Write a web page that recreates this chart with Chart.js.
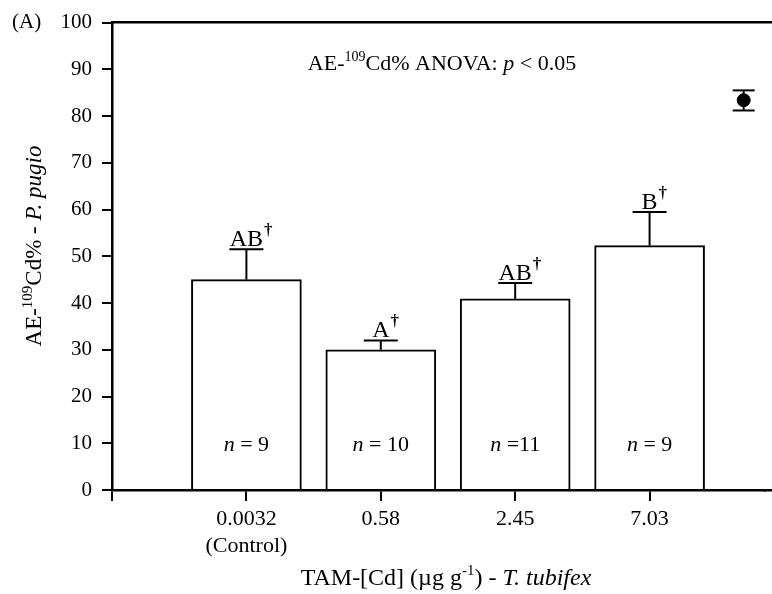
<!DOCTYPE html>
<html>
<head>
<meta charset="utf-8">
<script src="https://cdn.jsdelivr.net/npm/chart.js@4/dist/chart.umd.min.js"></script>
<style>
  html, body { margin: 0; padding: 0; background: #fff; }
</style>
</head>
<body>
<canvas id="aeChart" width="772" height="594"></canvas>
<script>
// values
const doses = ["0.0032", "0.58", "2.45", "7.03"];
const doseNotes = ["(Control)", "", "", ""];
const aeMeans = [45.0, 30.0, 40.9, 52.3];
const aeUpper = [51.5, 32.0, 44.3, 59.5];
const groupLetters = ["AB", "A", "AB", "B"];
const sampleText = [" = 9", " = 10", " =11", " = 9"];
const refPos = 4.7;          // lone reference point, right of the bars
const refMean = 83.4;
const refLow = 81.2;
const refHigh = 85.5;
const yTicks = [0, 10, 20, 30, 40, 50, 60, 70, 80, 90, 100];

const SERIF = "'Liberation Serif', 'Times New Roman', serif";
const f = (size, italic) => (italic ? "italic " : "") + size + "px " + SERIF;

// draw a run of text pieces with their own fonts / raise
function drawRich(ctx, parts, x, y, align) {
    let total = 0;
    parts.forEach(p => {
        ctx.font = p.font;
        p.w = ctx.measureText(p.t).width;
        total += p.w;
    });
    let cx = x;
    if (align === "center") cx = x - total / 2;
    ctx.textAlign = "left";
    ctx.textBaseline = "alphabetic";
    parts.forEach(p => {
        ctx.font = p.font;
        ctx.fillText(p.t, cx, y + (p.dy || 0));
        cx += p.w;
    });
}

function line(ctx, x1, y1, x2, y2) {
    ctx.beginPath();
    ctx.moveTo(x1, y1);
    ctx.lineTo(x2, y2);
    ctx.stroke();
}

const extras = {
    id: "extras",
    afterDatasetsDraw(chart) {
        const ctx = chart.ctx;
        const xs = chart.scales.x, ys = chart.scales.y;
        ctx.save();
        ctx.strokeStyle = "#000";
        ctx.fillStyle = "#000";
        ctx.lineWidth = 2;

        aeMeans.forEach((m, i) => {
            const px = xs.getPixelForValue(i + 1);
            const yTop = ys.getPixelForValue(m);
            const yErr = ys.getPixelForValue(aeUpper[i]);
            line(ctx, px, yTop, px, yErr);
            line(ctx, px - 17, yErr, px + 17, yErr);

            // significance letters + dagger
            ctx.font = f(24);
            const w = ctx.measureText(groupLetters[i]).width;
            ctx.textAlign = "left";
            ctx.textBaseline = "alphabetic";
            ctx.fillText(groupLetters[i], px - w / 2, yErr - 3);
            ctx.font = "bold " + f(17);
            ctx.fillText("\u2020", px + w / 2 + 1, yErr - 14);

            // sample size inside bar
            drawRich(ctx, [
                { t: "n", font: f(22, true) },
                { t: sampleText[i], font: f(22) }
            ], px, ys.getPixelForValue(10) + 8, "center");
        });

        // reference point error bar
        const rx = xs.getPixelForValue(refPos);
        const rLo = ys.getPixelForValue(refLow), rHi = ys.getPixelForValue(refHigh);
        line(ctx, rx, rLo, rx, rHi);
        line(ctx, rx - 11, rLo, rx + 11, rLo);
        line(ctx, rx - 11, rHi, rx + 11, rHi);
        ctx.restore();
    },
    afterDraw(chart) {
        const ctx = chart.ctx;
        const area = chart.chartArea;
        const snap = v => Math.round(v - 1.25) + 1.25;
        ctx.save();
        ctx.strokeStyle = "#000";
        ctx.fillStyle = "#000";
        ctx.lineWidth = 2.5;
        // top frame line and x axis both run to the picture edge
        line(ctx, area.left, snap(area.top), chart.width, snap(area.top));
        line(ctx, area.right - 1, snap(area.bottom), chart.width, snap(area.bottom));

        // panel tag
        ctx.font = f(21);
        ctx.textAlign = "left";
        ctx.textBaseline = "middle";
        ctx.fillText("(A)", 12, area.top);

        // in-plot title
        drawRich(ctx, [
            { t: "AE-", font: f(22) },
            { t: "109", font: f(14), dy: -9 },
            { t: "Cd% ANOVA: ", font: f(22) },
            { t: "p", font: f(22, true) },
            { t: " < 0.05", font: f(22) }
        ], 442, 70, "center");

        // x title
        drawRich(ctx, [
            { t: "TAM-[Cd] (\u00b5g g", font: f(24) },
            { t: "-1", font: f(15), dy: -10 },
            { t: ") - ", font: f(24) },
            { t: "T. tubifex", font: f(24, true) }
        ], 446, 585, "center");

        // y title
        ctx.translate(33, 246);
        ctx.rotate(-Math.PI / 2);
        drawRich(ctx, [
            { t: "AE-", font: f(23) },
            { t: "109", font: f(15), dy: -9 },
            { t: "Cd% - ", font: f(23) },
            { t: "P. pugio", font: f(23, true) }
        ], 0, 8, "center");
        ctx.restore();
    }
};

new Chart(document.getElementById("aeChart"), {
    data: {
        datasets: [
            {
                type: "bar",
                data: aeMeans.map((v, i) => ({ x: i + 1, y: v })),
                backgroundColor: "#fff",
                borderColor: "#000",
                borderWidth: 2,
                barThickness: 110,
                order: 2
            },
            {
                type: "scatter",
                data: [{ x: refPos, y: refMean }],
                backgroundColor: "#000",
                borderColor: "#000",
                pointRadius: 6.5,
                order: 1
            }
        ]
    },
    options: {
        responsive: false,
        animation: false,
        devicePixelRatio: 1,
        layout: { padding: { top: 21, right: 0, left: 0, bottom: 0 } },
        plugins: {
            legend: { display: false },
            tooltip: { enabled: false }
        },
        scales: {
            x: {
                type: "linear",
                min: 0,
                max: 4.855,
                offset: false,
                afterBuildTicks: s => { s.ticks = [0, 1, 2, 3, 4].map(v => ({ value: v })); },
                afterFit: s => { s.height = 104; },
                ticks: {
                    color: "#000",
                    font: { family: SERIF, size: 22, lineHeight: 1.25 },
                    padding: 4,
                    maxRotation: 0,
                    callback: v => {
                        if (v < 1) return "";
                        const note = doseNotes[v - 1];
                        return note ? [doses[v - 1], note] : doses[v - 1];
                    }
                },
                grid: { offset: false, drawOnChartArea: false, color: "#000", lineWidth: 2, tickLength: 11 },
                border: { display: true, color: "#000", width: 2.5 }
            },
            y: {
                min: 0,
                max: 100,
                afterBuildTicks: s => { s.ticks = yTicks.map(v => ({ value: v })); },
                afterFit: s => { s.width = 112; },
                ticks: {
                    color: "#000",
                    font: { family: SERIF, size: 21 },
                    padding: 10
                },
                grid: { drawOnChartArea: false, color: "#000", lineWidth: 2, tickLength: 10 },
                border: { display: true, color: "#000", width: 2.5 }
            }
        }
    },
    plugins: [extras]
});
</script>
</body>
</html>
